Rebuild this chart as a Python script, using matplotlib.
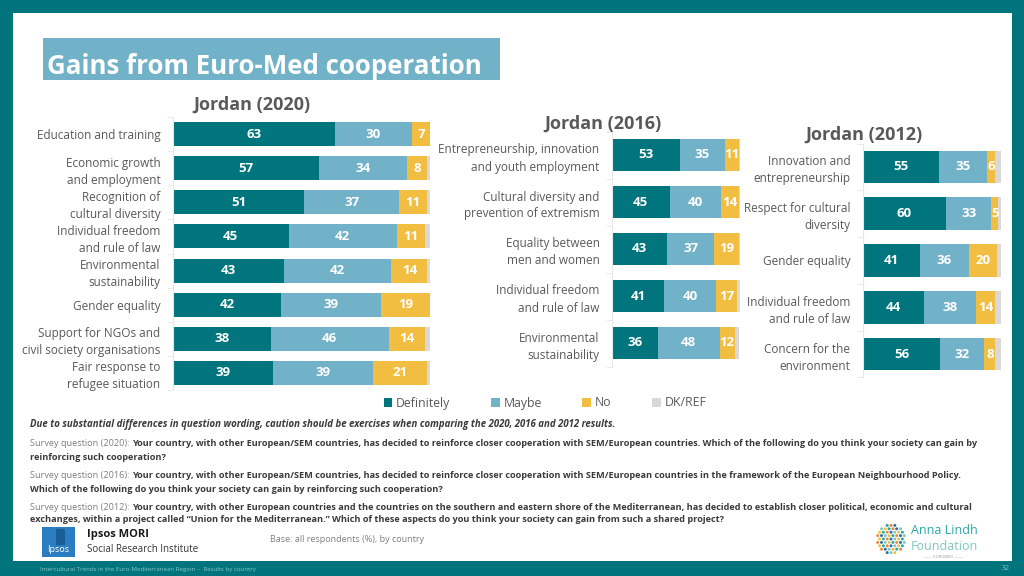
import numpy as np
import matplotlib
matplotlib.use("Agg")
import matplotlib.pyplot as plt
from matplotlib.patches import Rectangle, Ellipse
from matplotlib.patches import Patch

plt.rcParams["font.family"] = ["Open Sans", "DejaVu Sans"]

# ----------------------------
# Data
# ----------------------------

series = ["Definitely", "Maybe", "No", "DK/REF"]
colors = ["#00757E", "#72B2C9", "#F2BE42", "#D9D9D9"]

cats_2020 = [
    "Education and training",
    "Economic growth\nand employment",
    "Recognition of\ncultural diversity",
    "Individual freedom\nand rule of law",
    "Environmental\nsustainability",
    "Gender equality",
    "Support for NGOs and\ncivil society organisations",
    "Fair response to\nrefugee situation",
]
definitely_2020 = [63, 57, 51, 45, 43, 42, 38, 39]
maybe_2020 = [30, 34, 37, 42, 42, 39, 46, 39]
no_2020 = [7, 8, 11, 11, 14, 19, 14, 21]
dk_2020 = [0, 1, 2, 2, 1, 1, 2, 1]

cats_2016 = [
    "Entrepreneurship, innovation\nand youth employment",
    "Cultural diversity and\nprevention of extremism",
    "Equality between\nmen and women",
    "Individual freedom\nand rule of law",
    "Environmental\nsustainability",
]
definitely_2016 = [53, 45, 43, 41, 36]
maybe_2016 = [35, 40, 37, 40, 48]
no_2016 = [11, 14, 19, 17, 12]
dk_2016 = [1, 1, 1, 2, 3]

cats_2012 = [
    "Innovation and\nentrepreneurship",
    "Respect for cultural\ndiversity",
    "Gender equality",
    "Individual freedom\nand rule of law",
    "Concern for the\nenvironment",
]
definitely_2012 = [55, 60, 41, 44, 56]
maybe_2012 = [35, 33, 36, 38, 32]
no_2012 = [6, 5, 20, 14, 8]
dk_2012 = [4, 2, 3, 4, 4]

# ----------------------------
# Figure / frame
# ----------------------------

W, H = 1024, 576
TEAL = "#00747C"
GREY = "#595959"

fig = plt.figure(figsize=(W / 100, H / 100), dpi=100, facecolor=TEAL)


def box(x0, y0, x1, y1):
    return [x0 / W, 1 - y1 / H, (x1 - x0) / W, (y1 - y0) / H]


fig.patches.append(Rectangle((13 / W, 1 - 561 / H), (1012 - 13) / W, (561 - 13) / H,
                             transform=fig.transFigure, facecolor="white", edgecolor="none", zorder=-5))

# title box
fig.patches.append(Rectangle((43 / W, 1 - 80 / H), (500 - 43) / W, (80 - 38) / H,
                             transform=fig.transFigure, facecolor="#72B2C9", edgecolor="none", zorder=-4))
fig.text(47 / W, 1 - 66 / H, "Gains from Euro-Med cooperation", color="white",
         fontsize=18.6, fontweight="bold", va="center", ha="left")


# ----------------------------
# Panels
# ----------------------------

def panel(rect, cats, vals, title, title_xy, fs_cat, fs_val):
    ax = fig.add_axes(rect)
    y = np.arange(len(cats))
    left = np.zeros(len(cats))
    for i, v in enumerate(vals):
        v = np.array(v, dtype=float)
        ax.barh(y, v, left=left, height=0.7, color=colors[i], edgecolor="none")
        if i < 3:
            for yy, l, w in zip(y, left, v):
                ax.text(l + w / 2, yy, f"{int(w)}", ha="center", va="center",
                        color="white", fontsize=fs_val, fontweight="bold")
        left += v
    ax.set_xlim(0, 100)
    ax.set_ylim(len(cats) - 0.5, -0.5)
    ax.set_yticks(y)
    ax.set_yticklabels(cats, fontsize=fs_cat, color=GREY, linespacing=1.4)
    ax.set_yticks(np.arange(len(cats) + 1) - 0.5, minor=True)
    ax.tick_params(axis="y", which="major", length=0, pad=9)
    ax.tick_params(axis="y", which="minor", length=4, color="#E6E6E6")
    ax.set_xticks([])
    for s in ["top", "right", "bottom"]:
        ax.spines[s].set_visible(False)
    ax.spines["left"].set_color("#E6E6E6")
    ax.set_facecolor("none")
    fig.text(title_xy[0] / W, 1 - title_xy[1] / H, title, ha="center", va="center",
             fontsize=13, fontweight="bold", color=GREY)
    return ax


panel(box(173, 117, 430, 390), cats_2020,
      [definitely_2020, maybe_2020, no_2020, dk_2020],
      "Jordan (2020)", (252, 105), 8.5, 9.5)
panel(box(612, 131.5, 740, 366.5), cats_2016,
      [definitely_2016, maybe_2016, no_2016, dk_2016],
      "Jordan (2016)", (603, 124), 8.5, 9.5)
panel(box(863, 143.6, 1001, 377.4), cats_2012,
      [definitely_2012, maybe_2012, no_2012, dk_2012],
      "Jordan (2012)", (864, 135), 8.5, 9.5)

# legend
handles = [Patch(facecolor=c, edgecolor="none") for c in colors]
leg = fig.legend(handles, series, loc="center", bbox_to_anchor=(545 / W, 1 - 403 / H),
                 ncol=4, frameon=False, fontsize=8.8, handlelength=0.7, handleheight=0.7,
                 handletextpad=0.3, columnspacing=3.35)
for t in leg.get_texts():
    t.set_color(GREY)

# ----------------------------
# Footnotes
# ----------------------------

DARK = "#3A3A3A"
FS = 6.6
fig.text(30 / W, 1 - 425 / H,
         "Due to substantial differences in question wording, caution should be exercises when comparing the 2020, 2016 and 2012 results.",
         fontsize=6.9, fontweight="bold", style="italic", color=DARK, va="center")

questions = [
    ("Survey question (2020): ",
     ["Your country, with other European/SEM countries, has decided to reinforce closer cooperation with SEM/European countries. Which of the following do you think your society can gain by",
      "reinforcing such cooperation?"], 444),
    ("Survey question (2016): ",
     ["Your country, with other European/SEM countries, has decided to reinforce closer cooperation with SEM/European countries in the framework of the European Neighbourhood Policy.",
      "Which of the following do you think your society can gain by reinforcing such cooperation?"], 476),
    ("Survey question (2012): ",
     ["Your country, with other European countries and the countries on the southern and eastern shore of the Mediterranean, has decided to establish closer political, economic and cultural",
      "exchanges, within a project called \u201cUnion for the Mediterranean.\u201d Which of these aspects do you think your society can gain from such a shared project?"], 507),
]

renderer = fig.canvas.get_renderer()
for lead, lines, ypx in questions:
    t = fig.text(30 / W, 1 - ypx / H, lead, fontsize=FS, color="#7F7F7F", va="center")
    w = t.get_window_extent(renderer).width
    fig.text((30 + w) / W, 1 - ypx / H, lines[0], fontsize=FS, fontweight="bold",
             color=DARK, va="center")
    fig.text(30 / W, 1 - (ypx + 13) / H, lines[1], fontsize=FS, fontweight="bold",
             color=DARK, va="center")

# ----------------------------
# Logos / footer
# ----------------------------

fig.patches.append(Rectangle((42 / W, 1 - 557 / H), 33 / W, 30 / H,
                             transform=fig.transFigure, facecolor="#2A7DC0", edgecolor="none", zorder=2))
fig.patches.append(Rectangle((56 / W, 1 - 545 / H), 9 / W, 16 / H,
                             transform=fig.transFigure, facecolor="#1B5E96", edgecolor="none", zorder=2))
fig.text(58 / W, 1 - 550 / H, "Ipsos", color="white", fontsize=6.5, ha="center", va="center", zorder=3)
fig.text(87 / W, 1 - 535 / H, "Ipsos MORI", color="#1A1A1A", fontsize=8, fontweight="bold", va="center")
fig.text(87 / W, 1 - 549 / H, "Social Research Institute", color="#333333", fontsize=7, va="center")
fig.text(270 / W, 1 - 539 / H, "Base: all respondents (%), by country", color="#7F7F7F", fontsize=6.5, va="center")

# Anna Lindh dots
dot_cols = ["#2AA7A8", "#E88B3A", "#2E6FA7", "#7FC6C0", "#F2BE42"]
k = 0
for r in range(-4, 5):
    for c in range(-4, 5):
        cx = 891 + c * 3.8 + (r % 2) * 1.9
        cy = 539 + r * 3.4
        if (cx - 891) ** 2 + (cy - 539) ** 2 <= 14.5 ** 2:
            fig.patches.append(Ellipse((cx / W, 1 - cy / H), 3.0 / W, 3.0 / H, transform=fig.transFigure,
                                       facecolor=dot_cols[k % 5], edgecolor="none", zorder=3))
            k += 1
fig.text(911 / W, 1 - 531 / H, "Anna Lindh", color="#2AA7A8", fontsize=9, va="center")
fig.text(911 / W, 1 - 546 / H, "Foundation", color="#7FC6C0", fontsize=9, va="center")
fig.text(943 / W, 1 - 557 / H, "\u2014\u2014 EUROMED \u2014\u2014", color="#9A9A9A", fontsize=3, va="center", ha="center")

fig.text(40 / W, 1 - 569 / H,
         "Intercultural Trends in the Euro-Mediterranean Region \u2013  Results by country",
         color="#8CC7CB", fontsize=4.4, va="center")
fig.text(1010 / W, 1 - 569 / H, "32", color="#8CC7CB", fontsize=5, va="center", ha="right")

fig.savefig("out.png", dpi=100, facecolor=TEAL)
